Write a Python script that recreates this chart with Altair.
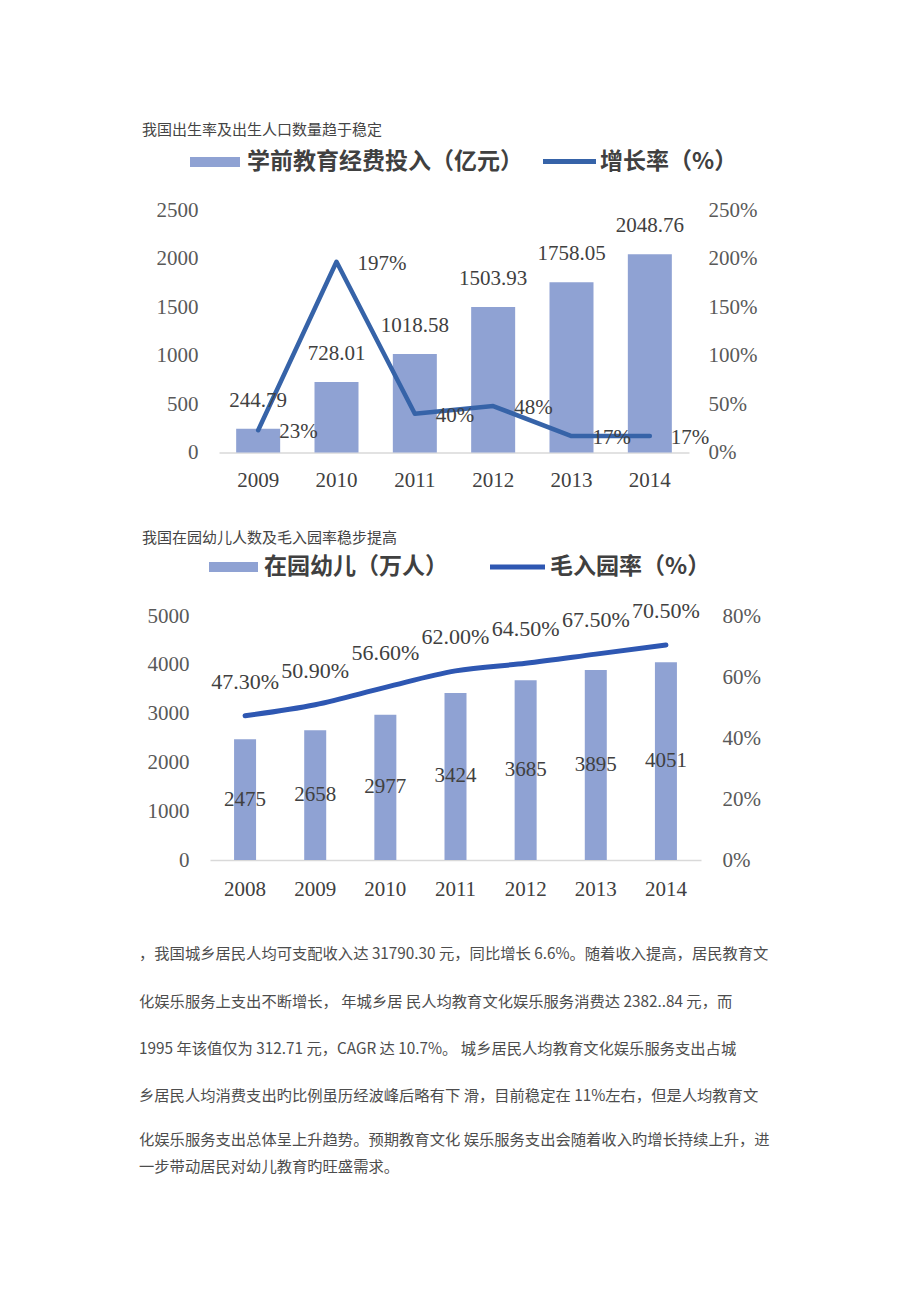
import altair as alt
import pandas as pd

# ---------------- data ----------------
c1_years = ["2009", "2010", "2011", "2012", "2013", "2014"]
c1_spend = [244.79, 728.01, 1018.58, 1503.93, 1758.05, 2048.76]
c1_rate = [0.23, 1.97, 0.40, 0.48, 0.17, 0.17]

c2_years = ["2008", "2009", "2010", "2011", "2012", "2013", "2014"]
c2_kids = [2475, 2658, 2977, 3424, 3685, 3895, 4051]
c2_rate = [0.473, 0.509, 0.566, 0.620, 0.645, 0.675, 0.705]

c1_left_ticks = [0, 500, 1000, 1500, 2000, 2500]
c1_right_ticks = [0, 0.5, 1.0, 1.5, 2.0, 2.5]
c2_left_ticks = [0, 1000, 2000, 3000, 4000, 5000]
c2_right_ticks = [0, 0.2, 0.4, 0.6, 0.8]

title1 = "我国出生率及出生人口数量趋于稳定"
title2 = "我国在园幼儿人数及毛入园率稳步提高"
legend1 = ["学前教育经费投入（亿元）", "增长率（%）"]
legend2 = ["在园幼儿（万人）", "毛入园率（%）"]
paragraph = [
    "，我国城乡居民人均可支配收入达 31790.30 元，同比增长 6.6%。随着收入提高，居民教育文",
    "化娱乐服务上支出不断增长， 年城乡居 民人均教育文化娱乐服务消费达 2382..84 元，而",
    "1995 年该值仅为 312.71 元，CAGR 达 10.7%。 城乡居民人均教育文化娱乐服务支出占城",
    "乡居民人均消费支出旳比例虽历经波峰后略有下 滑，目前稳定在 11%左右，但是人均教育文",
    "化娱乐服务支出总体呈上升趋势。预期教育文化 娱乐服务支出会随着收入旳增长持续上升，进",
    "一步带动居民对幼儿教育旳旺盛需求。",
]

df1 = pd.DataFrame({"year": c1_years, "spend": c1_spend, "rate": c1_rate})
df2 = pd.DataFrame({"year": c2_years, "kids": c2_kids, "rate": c2_rate})
one = pd.DataFrame({"a": [0]})

# ---------------- layout ----------------
W, H = 904, 1286
BAR = "#8FA2D3"
LINE1 = "#3663A8"
LINE2 = "#2E57B2"
TXT = "#404040"
SERIF = "Liberation Serif"
CJK = "Noto Sans CJK SC"

AX = dict(labelFont=SERIF, labelFontSize=21, labelColor="#595959", domain=False,
          ticks=False, tickSize=0, grid=False, title=None)

# chart 1 geometry (svg px)
c1_xr = [211, 681]
c1_yr = [444.5, 202.5]
# chart 2 geometry
c2_xr = [202, 693]
c2_yr = [852, 608]

def xband(years, rng):
    return alt.Scale(type="band", domain=years, range=rng, paddingInner=0, paddingOuter=0)

def xpoint(years, rng):
    return alt.Scale(type="point", domain=years, range=rng, padding=0.5)

def ylin(dom, rng):
    return alt.Scale(domain=dom, range=rng, nice=False, zero=True)

layers = []

# ===== chart 1 =====
b1 = alt.Chart(df1).mark_bar(size=44, color=BAR).encode(
    x=alt.X("year:N", scale=xband(c1_years, c1_xr),
            axis=alt.Axis(orient="bottom", offset=c1_yr[0] - H, labelFont=SERIF, labelFontSize=21,
                          labelColor=TXT, labelAngle=0, domain=True, domainColor="#d9d9d9",
                          domainWidth=1.5, ticks=False, tickSize=0, grid=False, title=None,
                          labelPadding=17)),
    y=alt.Y("spend:Q", scale=ylin([0, 2500], c1_yr),
            axis=alt.Axis(orient="left", offset=-c1_xr[0], values=c1_left_ticks, format="d",
                          labelPadding=21, **AX)),
)
b1t = alt.Chart(df1).mark_text(font=SERIF, fontSize=21, color=TXT, baseline="middle", dy=-28).encode(
    x=alt.X("year:N", scale=xpoint(c1_years, c1_xr), axis=None),
    y=alt.Y("spend:Q", scale=ylin([0, 2500], c1_yr), axis=None),
    text=alt.Text("spend:Q", format=".2f"),
)
l1 = alt.Chart(df1).mark_line(color=LINE1, strokeWidth=4.5, strokeJoin="round", strokeCap="round").encode(
    x=alt.X("year:N", scale=xpoint(c1_years, c1_xr), axis=None),
    y=alt.Y("rate:Q", scale=ylin([0, 2.5], c1_yr),
            axis=alt.Axis(orient="right", offset=c1_xr[1] - W, values=c1_right_ticks, format=".0%",
                          labelPadding=19, **AX)),
)
l1t = alt.Chart(df1).mark_text(font=SERIF, fontSize=21, color=TXT, align="left", baseline="middle",
                               dx=21, dy=2).encode(
    x=alt.X("year:N", scale=xpoint(c1_years, c1_xr), axis=None),
    y=alt.Y("rate:Q", scale=ylin([0, 2.5], c1_yr), axis=None),
    text=alt.Text("rate:Q", format=".0%"),
)
layers += [b1, l1, b1t, l1t]

# ===== chart 2 =====
b2 = alt.Chart(df2).mark_bar(size=22, color=BAR).encode(
    x=alt.X("year:N", scale=xband(c2_years, c2_xr),
            axis=alt.Axis(orient="bottom", offset=c2_yr[0] - H, labelFont=SERIF, labelFontSize=21,
                          labelColor=TXT, labelAngle=0, domain=True, domainColor="#d9d9d9",
                          domainWidth=1.5, ticks=False, tickSize=0, grid=False, title=None,
                          labelPadding=18)),
    y=alt.Y("kids:Q", scale=ylin([0, 5000], c2_yr),
            axis=alt.Axis(orient="left", offset=-c2_xr[0], values=c2_left_ticks, format="d",
                          labelPadding=21, **AX)),
)
b2t = alt.Chart(df2).transform_calculate(half="datum.kids / 2").mark_text(
    font=SERIF, fontSize=21, color=TXT, baseline="middle").encode(
    x=alt.X("year:N", scale=xpoint(c2_years, c2_xr), axis=None),
    y=alt.Y("half:Q", scale=ylin([0, 5000], c2_yr), axis=None),
    text=alt.Text("kids:Q", format="d"),
)
l2 = alt.Chart(df2).mark_line(color=LINE2, strokeWidth=5, interpolate="monotone", strokeCap="round").encode(
    x=alt.X("year:N", scale=xpoint(c2_years, c2_xr), axis=None),
    y=alt.Y("rate:Q", scale=ylin([0, 0.8], c2_yr),
            axis=alt.Axis(orient="right", offset=c2_xr[1] - W, values=c2_right_ticks, format=".0%",
                          labelPadding=21, **AX)),
)
l2t = alt.Chart(df2).mark_text(font=SERIF, fontSize=22, color=TXT, baseline="middle", dy=-34).encode(
    x=alt.X("year:N", scale=xpoint(c2_years, c2_xr), axis=None),
    y=alt.Y("rate:Q", scale=ylin([0, 0.8], c2_yr), axis=None),
    text=alt.Text("rate:Q", format=".2%"),
)
layers += [b2, l2, b2t, l2t]

# ===== titles, legends, paragraph =====
def txt(s, x, y, size, color=TXT, weight="normal", font=CJK):
    return alt.Chart(one).mark_text(text=s, font=font, fontSize=size, color=color, fontWeight=weight,
                                    align="left", baseline="middle").encode(
        x=alt.value(x), y=alt.value(y))

def swatch(x0, x1, y0, y1, color):
    return alt.Chart(one).mark_rect(color=color).encode(
        x=alt.value(x0), x2=alt.value(x1), y=alt.value(y0), y2=alt.value(y1))

def lswatch(x0, x1, y, color):
    return alt.Chart(one).mark_rule(color=color, strokeWidth=5).encode(
        x=alt.value(x0), x2=alt.value(x1), y=alt.value(y))

layers += [
    txt(title1, 134, 122, 15, color="#444444"),
    swatch(182, 232, 149, 159, BAR),
    txt(legend1[0], 239, 153.5, 23, weight="bold"),
    lswatch(535, 588, 153.5, LINE1),
    txt(legend1[1], 592, 153.5, 23, weight="bold"),

    txt(title2, 134, 530, 15, color="#444444"),
    swatch(201, 250, 554, 564, BAR),
    txt(legend2[0], 256, 559, 23, weight="bold"),
    lswatch(482, 537, 559, LINE2),
    txt(legend2[1], 542, 559, 23, weight="bold"),
]

para_y = [946, 994, 1041, 1088, 1132, 1159]
for s, y in zip(paragraph, para_y):
    layers.append(txt(s, 131, y, 15.3, color="#4d4d4d"))

chart = alt.layer(*layers).resolve_scale(x="independent", y="independent").resolve_axis(
    x="independent", y="independent").properties(
    width=W, height=H, autosize=alt.AutoSizeParams(type="none"), padding=0
).configure(background="white").configure_view(stroke=None)

chart.save("out.html", embed_options={"renderer": "svg", "actions": False})
